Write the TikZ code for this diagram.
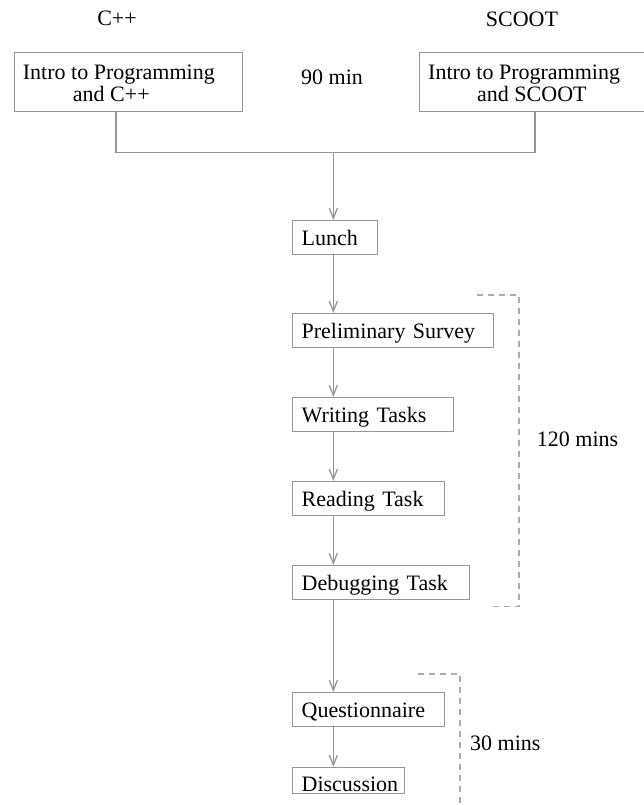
\documentclass[tikz,border=0pt]{standalone}
\usepackage{fontspec}
\setmainfont{Liberation Serif}
\usetikzlibrary{arrows.meta}
\definecolor{linegray}{RGB}{150,150,150}
\definecolor{dashgray}{RGB}{172,172,172}
\begin{document}
\begin{tikzpicture}[x=1pt,y=-1pt,
  font=\fontsize{22}{25}\selectfont,
  stepbox/.style={draw=linegray, line width=1.3pt, anchor=north west,
    inner xsep=9pt, inner ysep=5pt, text height=20pt, text depth=4pt, align=left},
  topbox/.style={draw=linegray, line width=1.3pt, anchor=north west,
    minimum height=59pt, inner sep=0pt},
  flow/.style={draw=linegray, line width=1.3pt, -{Straight Barb[length=10pt,width=8pt]}},
  plain/.style={draw=linegray, line width=1.3pt},
  bracket/.style={draw=dashgray, line width=1.3pt, dash pattern=on 6pt off 5pt},
  lbl/.style={anchor=base west, inner sep=0pt}]

\clip (0,0) rectangle (644,805);

% column headings
\node[anchor=base, inner sep=0pt] (cpphead) at (117,26) {C++};
\node[anchor=base, inner sep=0pt] (scoothead) at (522,26.5) {SCOOT};

% introductory sessions
\node[topbox, minimum width=227.7pt] (cppbox) at (14,51.7) {};
\node[lbl] (cppl1) at (22.7,79.3) {Intro to Programming};
\node[lbl] (cppl2) at (72.7,101.7) {and C++};

\node[topbox, minimum width=250pt] (scootbox) at (418.7,51.7) {};
\node[lbl] (scl1) at (428,79.3) {Intro to Programming};
\node[lbl] (scl2) at (477,101.7) {and SCOOT};

\node[lbl] (dur90) at (301,85) {90 min};

% session steps
\node[stepbox, text width=67pt] (lunch) at (292,220) {Lunch};
\node[stepbox, text width=183pt] (prelim) at (292,313) {Preliminary Survey};
\node[stepbox, text width=142.6pt] (writing) at (292,397) {Writing Tasks};
\node[stepbox, text width=134pt] (reading) at (292,481) {Reading Task};
\node[stepbox, text width=159pt] (debug) at (292,565) {Debugging Task};
\node[stepbox, text width=134pt] (quest) at (292,692) {Questionnaire};
\node[stepbox, text width=94pt, text height=21pt, text depth=0pt, inner ysep=2.5pt] (disc) at (292,767) {\mbox{Discussion}};

% joining the two intros
\coordinate (lj) at (116,152.7);
\coordinate (rj) at (535,152.7);
\coordinate (mj) at (333.3,152.7);
\draw[plain] (cppbox.south -| lj) -- (lj) -- (rj) -- (scootbox.south -| rj);

% flow arrows
\draw[flow] (mj) -- (mj |- lunch.north);
\draw[flow] (lunch.south -| mj) -- (prelim.north -| mj);
\draw[flow] (prelim.south -| mj) -- (writing.north -| mj);
\draw[flow] (writing.south -| mj) -- (reading.north -| mj);
\draw[flow] (reading.south -| mj) -- (debug.north -| mj);
\draw[flow] (debug.south -| mj) -- (quest.north -| mj);
\draw[flow] (quest.south -| mj) -- (disc.north -| mj);

% timing brackets
\coordinate (b1a) at (476.7,295);
\coordinate (b1b) at (519,295);
\coordinate (b1c) at (519,606.7);
\coordinate (b1d) at (489,606.7);
\draw[bracket] (b1a) -- (b1b) -- (b1c) -- (b1d);
\node[lbl] (dur120) at (536.7,446.7) {120 mins};

\coordinate (b2a) at (418,674);
\coordinate (b2b) at (460,674);
\coordinate (b2c) at (460,812);
\draw[bracket] (b2a) -- (b2b) -- (b2c);
\node[lbl] (dur30) at (470,750.7) {30 mins};
\end{tikzpicture}
\end{document}
